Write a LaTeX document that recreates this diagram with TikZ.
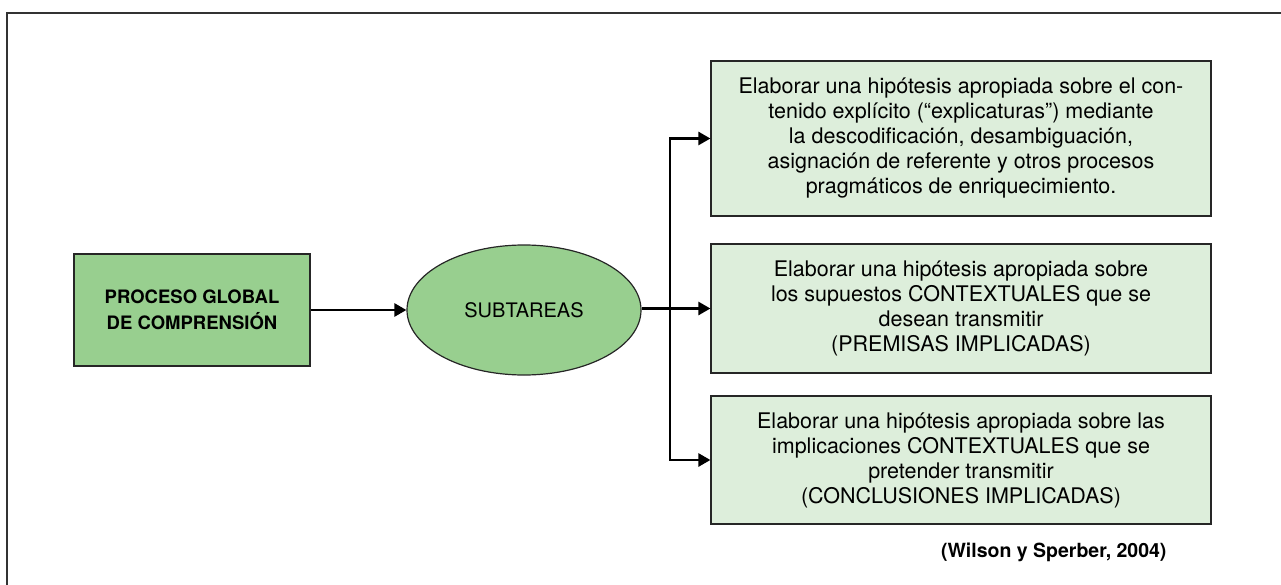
\documentclass[tikz,border=0pt]{standalone}
\usepackage{fontspec}
\setmainfont{TeX Gyre Heros}
\usetikzlibrary{arrows.meta,shapes.geometric}
\definecolor{darkgreen}{HTML}{98CF8F}
\definecolor{lightgreen}{HTML}{DDEEDB}
\definecolor{framegray}{HTML}{333333}
\tikzset{
  mainbox/.style={draw=black!85, line width=1.2pt, fill=darkgreen, inner sep=0pt, align=center, font=\fontsize{18.5}{26}\selectfont\bfseries},
  subell/.style={ellipse, draw=black!85, line width=1.2pt, fill=darkgreen, inner sep=0pt, font=\fontsize{20}{24}\selectfont},
  taskbox/.style={draw=black!85, line width=1.2pt, fill=lightgreen, inner sep=0pt, align=center, minimum width=500pt, font=\fontsize{21.5}{25}\selectfont},
  conn/.style={line width=2.6pt, -{Triangle[length=12pt,width=13pt]}},
  plainline/.style={line width=2.6pt}
}
\begin{document}
\begin{tikzpicture}[x=1pt,y=-1pt]
\useasboundingbox (0,0) rectangle (1281,585);
\draw[framegray, line width=1.5pt] (1290,13) -- (7,13) -- (7,595);
\node[mainbox, minimum width=236pt, minimum height=112pt] (proc) at (192,310) {PROCESO GLOBAL\\DE COMPRENSIÓN};
\node[subell, minimum width=234pt, minimum height=130pt] (sub) at (524,310) {SUBTAREAS};
\node[taskbox, minimum height=155pt] (t1) at (961,138.5) {Elaborar una hipótesis apropiada sobre el con-\\tenido explícito (“explicaturas”) mediante\\la descodificación, desambiguación,\\asignación de referente y otros procesos\\pragmáticos de enriquecimiento.};
\node[taskbox, minimum height=129pt] (t2) at (961,308.5) {Elaborar una hipótesis apropiada sobre\\los supuestos CONTEXTUALES que se\\desean transmitir\\(PREMISAS IMPLICADAS)};
\node[taskbox, minimum height=128pt] (t3) at (961,460) {Elaborar una hipótesis apropiada sobre las\\implicaciones CONTEXTUALES que se\\pretender transmitir\\(CONCLUSIONES IMPLICADAS)};
\node[font=\fontsize{19.5}{22}\selectfont\bfseries, anchor=east] (cite) at (1170,552) {(Wilson y Sperber, 2004)};
\coordinate (split) at (670,308.5);
\draw[conn] (proc.east) -- (sub.west);
\draw[plainline] (sub.east |- split) -- (split);
\draw[conn] (split) -- (t2.west);
\draw[conn] (split) |- (t1.west);
\draw[conn] (split) |- (t3.west);
\end{tikzpicture}
\end{document}
